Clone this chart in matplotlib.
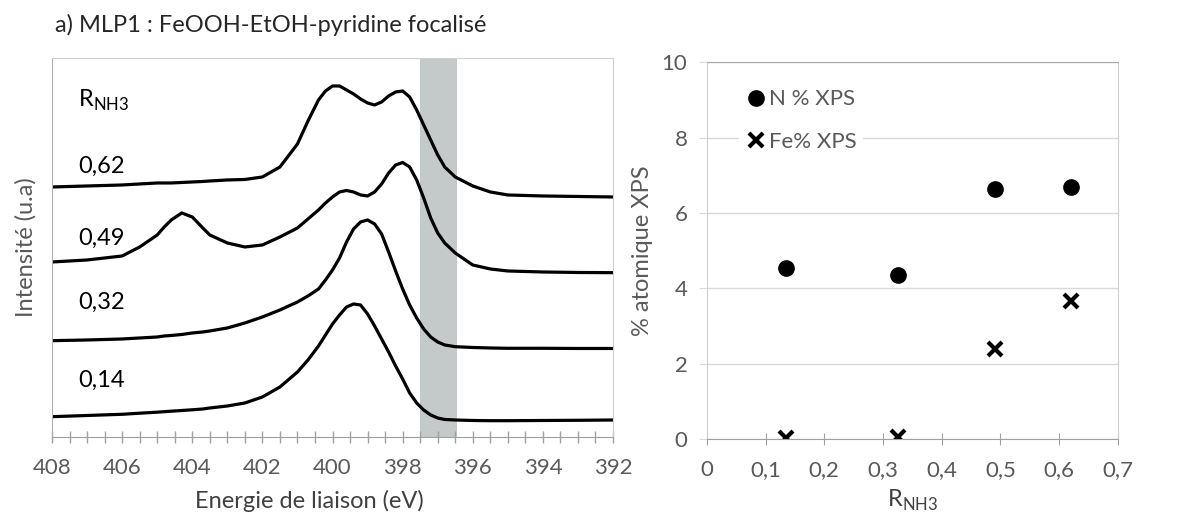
import numpy as np
import matplotlib
matplotlib.use("Agg")
import matplotlib.pyplot as plt

plt.rcParams['font.family'] = ['Lato', 'DejaVu Sans']

# ---------------- data ----------------
energy = [408, 407, 406, 405.5, 405, 404.8, 404.6, 404.3, 404, 403.7, 403.5, 403,
          402.5, 402, 401.5, 401, 400.7, 400.4, 400.2, 400, 399.8, 399.6, 399.4,
          399.2, 399, 398.8, 398.6, 398.4, 398.2, 398, 397.8, 397.6, 397.4, 397.2,
          397, 396.8, 396.5, 396, 395.5, 395, 394, 393, 392]

# intensities already stacked (arbitrary units)
spec_062 = [250, 251, 252, 253, 254, 254, 254, 254.5, 255, 255.5, 256, 257,
            257.5, 260, 270, 293, 316, 337, 346, 351, 351, 347, 343,
            338, 334, 332, 335, 341, 345, 346, 340, 327, 312, 297,
            282, 270, 260, 251, 245, 242, 241, 240.5, 240]
spec_049 = [175, 177, 181, 190, 202, 210, 217, 224, 220, 209, 202, 194,
            190, 192, 200, 209, 218, 227, 234, 240, 245, 246.5, 245,
            242, 241, 245, 253, 264, 272, 274.5, 270, 257, 239, 219,
            204, 194, 184, 172, 168, 166, 165, 164.5, 164.3]
spec_032 = [96.3, 97, 98, 99, 100, 101, 101.5, 102.5, 104, 105, 106, 109,
            114, 120, 127, 135, 141, 148, 157, 167, 179, 195, 208,
            215, 217, 213, 203, 185, 166, 148, 132, 119, 108, 100,
            95, 92, 90.3, 89.5, 89, 88.7, 88.7, 88.5, 88.5]
spec_014 = [20.3, 21.5, 22.7, 23.8, 24.8, 25.3, 25.8, 26.5, 27.2, 28, 29, 31,
            34, 40, 50, 65, 77, 91, 102, 113, 122, 130, 133,
            132, 123, 111, 98, 85, 71, 58, 44, 34, 27, 22,
            19, 17.5, 17, 16.5, 16.3, 16.3, 16.5, 16.7, 17]
spectra = [spec_062, spec_049, spec_032, spec_014]
spec_labels = ["0,62", "0,49", "0,32", "0,14"]
label_y = [271, 199, 135, 57]
band = (397.5, 396.45)

r_nh3 = [0.135, 0.325, 0.49, 0.62]
n_xps = [4.55, 4.35, 6.63, 6.69]
fe_xps = [0.02, 0.05, 2.38, 3.67]

grey_txt = '#595959'
frame = '#d0d0d0'

fig = plt.figure(figsize=(11.88, 5.27), dpi=100)

# ---------------- left panel: spectra ----------------
ax1 = fig.add_axes([0.0438, 0.1708, 0.4722, 0.7192])
ax1.axvspan(band[0], band[1], color='#c3cac9', lw=0, zorder=0)
for s in spectra:
    ax1.plot(energy, s, color='black', lw=2.3)
ax1.set_xlim(408, 392)
ax1.set_ylim(0, 379)
ax1.set_xticks(np.arange(408, 391, -2))
ax1.set_xticks(np.arange(408, 391.9, -0.5), minor=True)
ax1.set_yticks([])
ax1.tick_params(axis='x', which='both', direction='inout', length=8, width=1,
                color='#a0a0a0', labelsize=16, labelcolor=grey_txt, pad=11)
for sp in ['top', 'right']:
    ax1.spines[sp].set_color(frame)
ax1.spines['left'].set_color('#b0b0b0')
ax1.spines['bottom'].set_color('#a0a0a0')
for txt, yy in zip(spec_labels, label_y):
    ax1.text(407.25, yy, txt, fontsize=17, color='black', ha='left', va='center')
ax1.text(407.25, 337, r"R$_{\mathregular{NH3}}$", fontsize=17, color='black',
         ha='left', va='center')
ax1.set_xlabel("Energie de liaison (eV)", fontsize=17, color='#404040')
ax1.xaxis.set_label_coords(0.458, -0.14)
ax1.set_ylabel("Intensité (u.a)", fontsize=17, color=grey_txt, labelpad=11)
fig.text(0.046, 0.952, "a) MLP1 : FeOOH-EtOH-pyridine focalisé", fontsize=17,
         color='#262626', ha='left', va='center')

# ---------------- right panel: atomic % ----------------
ax2 = fig.add_axes([0.595, 0.167, 0.346, 0.715])
ax2.set_xlim(0, 0.7)
ax2.set_ylim(0, 10)
ax2.set_yticks([0, 2, 4, 6, 8, 10])
ax2.set_xticks(np.arange(0, 0.71, 0.1))
ax2.grid(axis='y', color='#d9d9d9', lw=1)
ax2.set_axisbelow(True)
ax2.plot(r_nh3, n_xps, 'o', color='black', ms=11, ls='none', label='N % XPS')
ax2.plot(r_nh3, fe_xps, 'x', color='black', ms=10, mew=3, ls='none', label='Fe% XPS')
ax2.set_xticklabels([f"{v:.1f}".replace('.', ',') if v > 0 else "0"
                     for v in np.arange(0, 0.71, 0.1)])
ax2.tick_params(axis='x', direction='inout', length=8, color='#a0a0a0',
                labelsize=16, labelcolor=grey_txt, pad=11)
ax2.tick_params(axis='y', direction='out', length=6, color='#d9d9d9',
                labelsize=16, labelcolor=grey_txt, pad=8)
ax2.spines['top'].set_color('#a8a8a8')
ax2.spines['right'].set_color(frame)
ax2.spines['left'].set_color(frame)
ax2.spines['bottom'].set_color('#a0a0a0')
ax2.set_xlabel(r"R$_{\mathregular{NH3}}$", fontsize=17, color='#404040')
ax2.xaxis.set_label_coords(0.5, -0.13)
ax2.set_ylabel("% atomique XPS", fontsize=17, color=grey_txt, labelpad=6)
leg = ax2.legend(loc='upper left', bbox_to_anchor=(0.05, 0.975), fontsize=16,
                 frameon=True, facecolor='white', edgecolor='none', framealpha=1,
                 handletextpad=0.05, handlelength=1.0, labelspacing=1.0,
                 borderpad=0.3)
for t in leg.get_texts():
    t.set_color(grey_txt)

fig.savefig("out.png", dpi=100)
